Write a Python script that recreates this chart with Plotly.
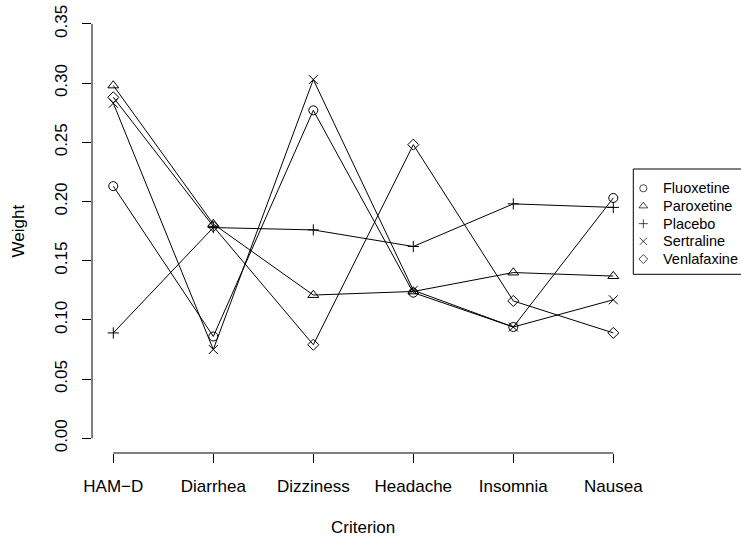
import plotly.graph_objects as go

# Criteria along the x axis and the weight each drug gives to them
criteria = ["HAM\u2212D", "Diarrhea", "Dizziness", "Headache", "Insomnia", "Nausea"]
drugs = ["Fluoxetine", "Paroxetine", "Placebo", "Sertraline", "Venlafaxine"]
fluoxetine = [0.213, 0.086, 0.277, 0.123, 0.094, 0.203]
paroxetine = [0.298, 0.181, 0.121, 0.124, 0.140, 0.137]
placebo = [0.089, 0.178, 0.176, 0.162, 0.198, 0.195]
sertraline = [0.283, 0.075, 0.303, 0.125, 0.094, 0.117]
venlafaxine = [0.288, 0.179, 0.079, 0.248, 0.116, 0.089]
y_ticks = [0.00, 0.05, 0.10, 0.15, 0.20, 0.25, 0.30, 0.35]

series = [fluoxetine, paroxetine, placebo, sertraline, venlafaxine]
symbols = ["circle-open", "triangle-up-open", "cross-thin-open", "x-thin-open", "diamond-open"]
sizes = [9, 9.5, 8, 9, 8.5]

W, H = 741, 541
FONT = "Liberation Sans, Arial, Helvetica, sans-serif"
# plot region in pixels
PX0, PX1, PY0, PY1 = 92, 633, 10, 453

fig = go.Figure()
for name, vals, sym, sz in zip(drugs, series, symbols, sizes):
    fig.add_trace(go.Scatter(
        x=criteria, y=vals, mode="lines+markers", name=name, showlegend=False,
        line=dict(color="black", width=1),
        marker=dict(symbol=sym, size=sz, color="black", line=dict(color="black", width=1)),
        xaxis="x", yaxis="y", cliponaxis=False,
    ))

# legend keys on their own small axes
LX0, LX1, LY0, LY1 = 633.3, 741, 169, 274.3
fig.add_trace(go.Scatter(
    x=[0.093] * len(drugs), y=list(range(len(drugs))), mode="markers", showlegend=False,
    marker=dict(symbol=symbols, size=[s * 0.8 for s in sizes], color="black",
                line=dict(color="black", width=1)),
    xaxis="x2", yaxis="y2", hoverinfo="skip",
))
annotations = []
for i, name in enumerate(drugs):
    annotations.append(dict(
        x=0.26, y=i, xref="x2", yref="y2", text=name, showarrow=False,
        xanchor="left", yanchor="middle", font=dict(family=FONT, size=14.5, color="black"),
    ))

# axis titles
annotations.append(dict(
    x=(PX0 + PX1) / 2 / W, y=1 - 527 / H, xref="paper", yref="paper", text="Criterion",
    showarrow=False, xanchor="center", yanchor="middle",
    font=dict(family=FONT, size=17, color="black"),
))
annotations.append(dict(
    x=18 / W, y=1 - (PY0 + PY1) / 2 / H, xref="paper", yref="paper", text="Weight",
    showarrow=False, xanchor="center", yanchor="middle", textangle=-90,
    font=dict(family=FONT, size=17, color="black"),
))

shapes = [
    # x axis line spanning the first to last category
    dict(type="line", xref="x", yref="paper", x0=0, x1=len(criteria) - 1,
         y0=1 - PY1 / H, y1=1 - PY1 / H, line=dict(color="black", width=1)),
    # y axis line spanning the tick range
    dict(type="line", xref="paper", yref="y", x0=PX0 / W, x1=PX0 / W,
         y0=y_ticks[0], y1=y_ticks[-1], line=dict(color="black", width=1)),
    # legend frame
    dict(type="rect", xref="paper", yref="paper", x0=LX0 / W, x1=742 / W,
         y0=1 - LY1 / H, y1=1 - LY0 / H, line=dict(color="black", width=1),
         fillcolor="white", layer="below"),
]

# row 0 at y=188.3 px, rows 17.675 px apart
row0, step = 188.3, 17.675
y2_top = -(row0 - LY0) / step
y2_bot = (len(drugs) - 1) + (LY1 - (row0 + step * (len(drugs) - 1))) / step

fig.update_layout(
    template="none",
    width=W, height=H, margin=dict(l=0, r=0, t=0, b=0, autoexpand=False),
    paper_bgcolor="white", plot_bgcolor="white", showlegend=False,
    font=dict(family=FONT, size=17, color="black"),
    xaxis=dict(
        domain=[PX0 / W, PX1 / W], type="category", automargin=False,
        range=[-(113.3 - PX0) / 100, (PX1 - 113.3) / 100],
        showgrid=False, zeroline=False, showline=False,
        ticks="outside", ticklen=9, tickwidth=1, tickcolor="black",
        tickfont=dict(family=FONT, size=17, color="black"), ticklabelstandoff=9,
    ),
    yaxis=dict(
        domain=[1 - PY1 / H, 1 - PY0 / H], automargin=False,
        range=[-(PY1 - 438.3) / 1184, (438.3 - PY0) / 1184],
        tickvals=y_ticks, ticktext=[f"{v:.2f}" for v in y_ticks],
        showgrid=False, zeroline=False, showline=False,
        ticks="outside", ticklen=9, tickwidth=1, tickcolor="black", tickangle=-90,
        tickfont=dict(family=FONT, size=17, color="black"), ticklabelstandoff=8,
    ),
    xaxis2=dict(domain=[LX0 / W, 1], range=[0, 1], visible=False, fixedrange=True,
                automargin=False),
    yaxis2=dict(domain=[1 - LY1 / H, 1 - LY0 / H], range=[y2_bot, y2_top],
                visible=False, fixedrange=True, automargin=False),
    shapes=shapes, annotations=annotations,
)

fig.write_html("out.html")
